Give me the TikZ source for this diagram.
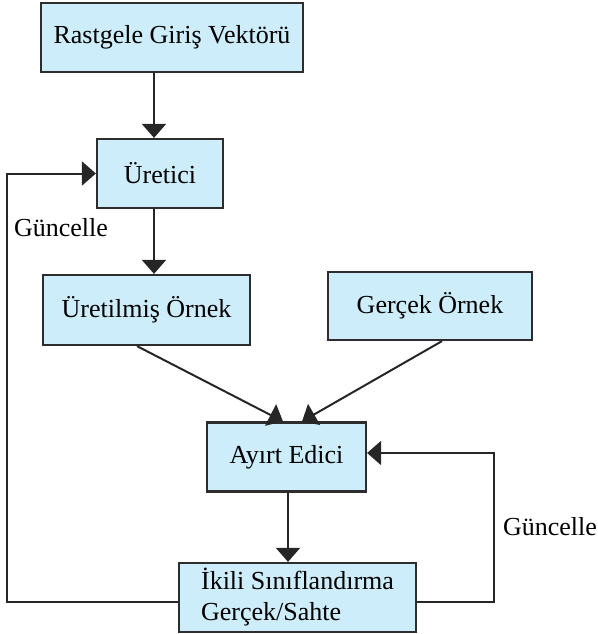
\documentclass[tikz,border=0pt]{standalone}
\usepackage{fontspec}
\setmainfont{Liberation Serif}
\usetikzlibrary{arrows.meta}
\definecolor{boxfill}{RGB}{204,237,249}
\definecolor{boxline}{RGB}{45,45,45}
\begin{document}
\begin{tikzpicture}[x=1pt,y=-1pt,
  box/.style={draw=boxline, line width=2.2pt, fill=boxfill, inner sep=0pt,
    font=\fontsize{26}{31}\selectfont},
  arr/.style={line width=2pt, draw=black!85, -{Triangle[length=14pt,width=24pt]}},
  lbl/.style={font=\fontsize{26}{31}\selectfont}]
\useasboundingbox (0,0) rectangle (597,634);
\node[box, minimum width=262pt, minimum height=69pt] (rand) at (172,37.5) {Rastgele Giriş Vektörü};
\node[box, minimum width=126pt, minimum height=69pt] (gen) at (160,173.5) {Üretici};
\node[box, minimum width=207pt, minimum height=70pt] (fake) at (146.5,310) {Üretilmiş Örnek};
\node[box, minimum width=204pt, minimum height=68pt] (real) at (430,306) {Gerçek Örnek};
\node[box, minimum width=159pt, minimum height=69pt] (disc) at (286.5,457) {Ayırt Edici};
\node[box, minimum width=237pt, minimum height=69pt, align=left] (cls) at (297.5,597.5) {İkili Sınıflandırma\\Gerçek/Sahte};
\node[lbl] (upd1) at (61,228) {Güncelle};
\node[lbl] (upd2) at (550,527) {Güncelle};
\coordinate (lft) at (7,0);
\coordinate (rgt) at (494,0);
\draw[arr] ([xshift=-18pt]rand.south) -- ([xshift=-6pt]gen.north);
\draw[arr] ([xshift=-6pt]gen.south) -- ([xshift=7.5pt]fake.north);
\draw[arr] ([xshift=-9.5pt]fake.south) -- ([xshift=-3.5pt]disc.north);
\draw[arr] ([xshift=12pt]real.south) -- ([xshift=15.5pt]disc.north);
\draw[arr] ([xshift=1.5pt]disc.south) -- ([xshift=-9.5pt]cls.north);
\draw[arr] ([yshift=-4pt]cls.west) -- ([yshift=-4pt]cls.west -| lft) |- (gen.west);
\draw[arr] ([yshift=-4pt]cls.east) -- ([yshift=-4pt]cls.east -| rgt) |- ([yshift=4pt]disc.east);
\end{tikzpicture}
\end{document}
